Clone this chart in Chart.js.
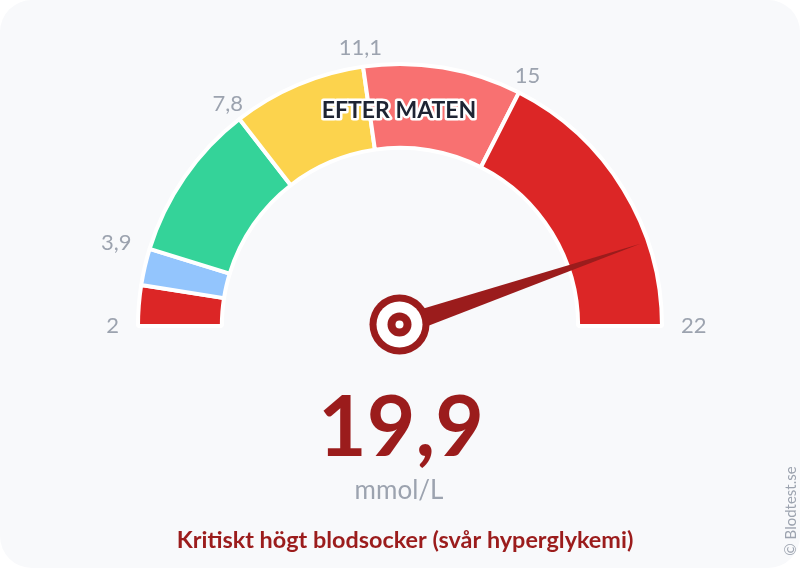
<!DOCTYPE html>
<html lang="sv">
<head>
<meta charset="utf-8">
<title>Blodsocker efter maten</title>
<script src="https://cdn.jsdelivr.net/npm/chart.js@4.4.1/dist/chart.umd.min.js"></script>
<style>
  html, body { margin: 0; padding: 0; background: #ffffff; }
  .card {
    position: relative;
    width: 800px;
    height: 568px;
    background: #f8f9fb;
    border-radius: 32px;
    overflow: hidden;
  }
  canvas { display: block; }
</style>
</head>
<body>
<div class="card">
  <canvas id="gauge" width="800" height="568"></canvas>
</div>
<script>
// zone limits in mmol/L, one colour per zone
const zoneLimits = [2, 3, 3.9, 7.8, 11.1, 15, 22];
const zoneColors = ["#dc2626", "#93c5fd", "#34d399", "#fcd34d", "#f87171", "#dc2626"];
const tickValues = [2, 3.9, 7.8, 11.1, 15, 22];
const tickLabels = ["2", "3,9", "7,8", "11,1", "15", "22"];
const reading = 19.9;
const readingLabel = "19,9";
const unitLabel = "mmol/L";
const modeLabel = "EFTER MATEN";
const statusLabel = "Kritiskt högt blodsocker (svår hyperglykemi)";

const minValue = zoneLimits[0];
const maxValue = zoneLimits[zoneLimits.length - 1];
const zoneSizes = zoneLimits.slice(1).map((v, i) => +(v - zoneLimits[i]).toFixed(2));

const dark = "#9b1c1c";
const gray = "#9ca3af";
const font = "Lato, 'Noto Sans', sans-serif";

function valueAngle(v) {
  return Math.PI + ((v - minValue) / (maxValue - minValue)) * Math.PI;
}

const gaugeDecor = {
  id: "gaugeDecor",
  afterDraw(chart) {
    const ctx = chart.ctx;
    const arc = chart.getDatasetMeta(0).data[0];
    const cx = arc.x;
    const cy = arc.y;
    const r = arc.outerRadius;

    ctx.save();
    // tick labels round the rim
    ctx.font = "22px " + font;
    ctx.fillStyle = gray;
    ctx.textBaseline = "middle";
    tickValues.forEach((v, i) => {
      const a = valueAngle(v);
      const c = Math.cos(a);
      const x = cx + (r + 19) * c;
      const y = cy + (r + 19) * Math.sin(a);
      ctx.textAlign = c < -0.8 ? "right" : c > 0.8 ? "left" : "center";
      ctx.fillText(tickLabels[i], x, y);
    });

    // mode label with white outline
    ctx.font = "bold 23px " + font;
    ctx.textAlign = "center";
    ctx.lineJoin = "round";
    ctx.lineWidth = 5;
    ctx.strokeStyle = "#ffffff";
    ctx.strokeText(modeLabel, cx - 1, 111);
    ctx.fillStyle = "#1e2433";
    ctx.fillText(modeLabel, cx - 1, 111);

    // needle
    const a = valueAngle(reading);
    const len = 254;
    const hw = 10;
    ctx.fillStyle = dark;
    ctx.beginPath();
    ctx.moveTo(cx + Math.cos(a) * len, cy + Math.sin(a) * len);
    ctx.lineTo(cx + Math.cos(a + Math.PI / 2) * hw, cy + Math.sin(a + Math.PI / 2) * hw);
    ctx.lineTo(cx + Math.cos(a - Math.PI / 2) * hw, cy + Math.sin(a - Math.PI / 2) * hw);
    ctx.closePath();
    ctx.fill();

    // hub
    [[30, dark], [23, "#ffffff"], [12, dark], [4, "#ffffff"]].forEach(([rad, col]) => {
      ctx.beginPath();
      ctx.arc(cx - 0.5, cy - 1.5, rad, 0, Math.PI * 2);
      ctx.fillStyle = col;
      ctx.fill();
    });

    // reading
    ctx.textBaseline = "alphabetic";
    ctx.fillStyle = dark;
    ctx.font = "bold 84px " + font;
    ctx.fillText(readingLabel, cx + 1, 456);

    ctx.fillStyle = gray;
    ctx.font = "26px " + font;
    ctx.fillText(unitLabel, cx - 1, 499);

    ctx.fillStyle = dark;
    ctx.font = "bold 23.4px " + font;
    ctx.fillText(statusLabel, 405, 548);

    // credit
    ctx.translate(791, 511);
    ctx.rotate(-Math.PI / 2);
    ctx.fillStyle = gray;
    ctx.font = "15px " + font;
    ctx.textBaseline = "middle";
    ctx.fillText("© Blodtest.se", 0, 0);
    ctx.restore();
  }
};

new Chart(document.getElementById("gauge"), {
  type: "doughnut",
  data: {
    labels: zoneLimits.slice(1).map((v, i) => zoneLimits[i] + "–" + v),
    datasets: [
      {
        data: zoneSizes,
        backgroundColor: zoneColors,
        borderColor: "#ffffff",
        borderWidth: 4,
        hoverOffset: 0,
        hoverBorderWidth: 4,
      },
    ],
  },
  options: {
    responsive: false,
    animation: false,
    rotation: -90,
    circumference: 180,
    radius: 262,
    cutout: "68%",
    layout: { padding: { top: 63, bottom: 241, left: 138, right: 138 } },
    events: [],
    plugins: {
      legend: { display: false },
      tooltip: { enabled: false },
    },
  },
  plugins: [gaugeDecor],
});
</script>
</body>
</html>
